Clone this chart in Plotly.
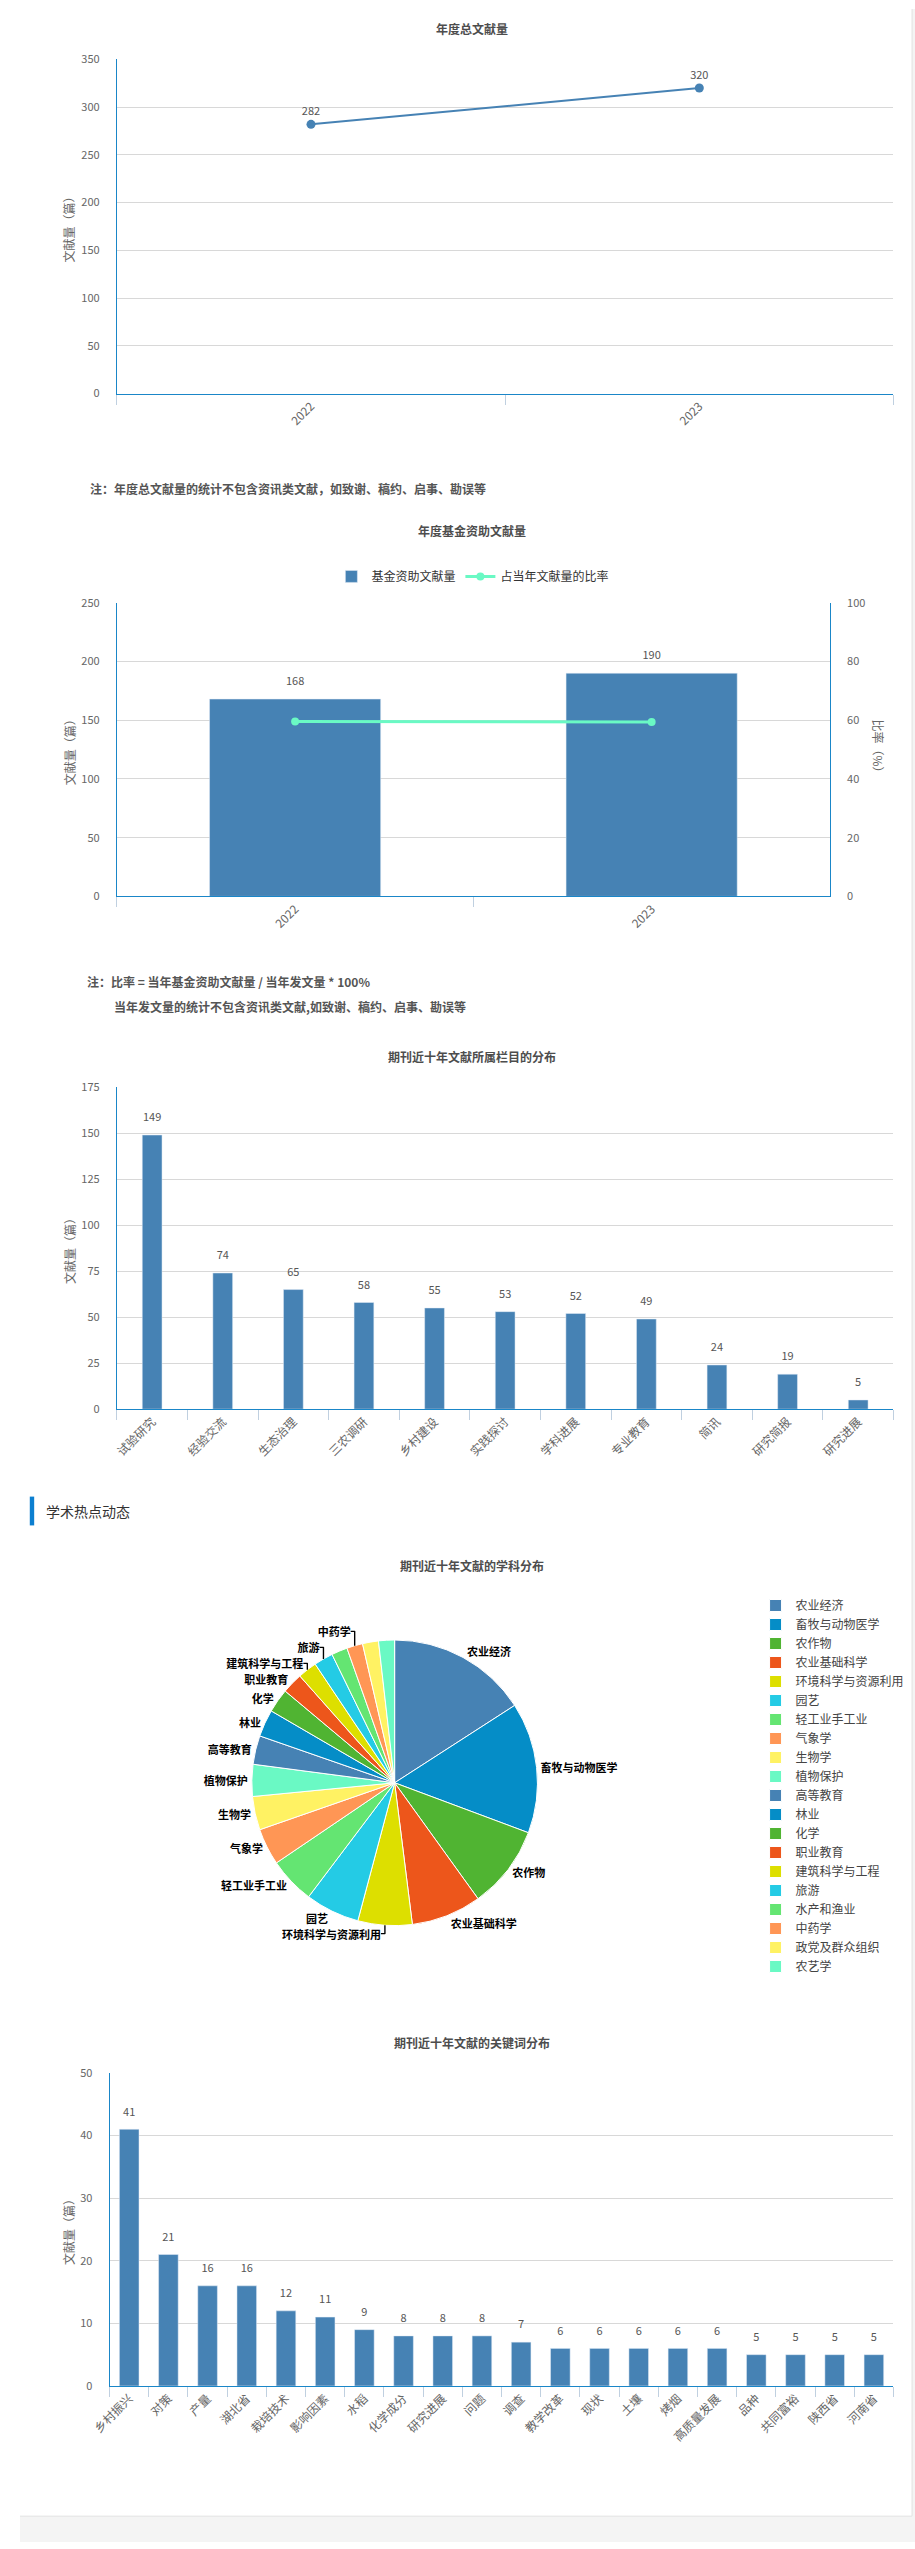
import plotly.graph_objects as go

W, H = 915, 2549
FONT = "Noto Sans CJK SC"
BLUE_AXIS = "#1A86C8"
GRID = "#D8D8D8"
TICKC = "#C0D0E0"
BAR = "#4682B4"

# ---------------- data ----------------
years = ["2022", "2023"]
total_counts = [282, 320]

fund_counts = [168, 190]
fund_ratio = [59.57, 59.38]

column_names = ["试验研究", "经验交流", "生态治理", "三农调研", "乡村建设", "实践探讨",
                "学科进展", "专业教育", "简讯", "研究简报", "研究进展"]
column_counts = [149, 74, 65, 58, 55, 53, 52, 49, 24, 19, 5]

subject_names = ["农业经济", "畜牧与动物医学", "农作物", "农业基础科学", "环境科学与资源利用",
                 "园艺", "轻工业手工业", "气象学", "生物学", "植物保护", "高等教育", "林业",
                 "化学", "职业教育", "建筑科学与工程", "旅游", "水产和渔业", "中药学",
                 "政党及群众组织", "农艺学"]
subject_counts = [88, 82, 52, 44, 34, 34, 29, 23, 21, 20, 18, 17, 15, 13, 12, 12, 10, 10, 10, 10]
subject_label_text = ["农业经济", "畜牧与动物医学", "农作物", "农业基础科学", "环境科学与资源利用",
                      "园艺", "轻工业手工业", "气象学", "生物学", "植物保护", "高等教育", "林业",
                      "化学", "职业教育", "建筑科学与工程", "旅游", "", "中药学", "", ""]
subject_colors = ["#4682B4", "#058DC7", "#50B432", "#ED561B", "#DDDF00", "#24CBE5", "#64E572",
                  "#FF9655", "#FFF263", "#6AF9C4"] * 2

keyword_names = ["乡村振兴", "对策", "产量", "湖北省", "栽培技术", "影响因素", "水稻", "化学成分",
                 "研究进展", "问题", "调查", "教学改革", "现状", "土壤", "烤烟", "高质量发展",
                 "品种", "共同富裕", "陕西省", "河南省"]
keyword_counts = [41, 21, 16, 16, 12, 11, 9, 8, 8, 8, 7, 6, 6, 6, 6, 6, 5, 5, 5, 5]


def py(y):
    return 1 - y / H


def pxx(x):
    return x / W


LABEL_FONT = dict(family=FONT, size=11, color="#555")

fig = go.Figure()


def bar_labels(xs, ys, xa, ya):
    # value labels above the bars (invisible anchor markers give Highcharts-like spacing)
    fig.add_trace(go.Scatter(
        x=xs, y=ys, mode="markers+text", text=[str(v) for v in ys],
        textposition="top center", textfont=LABEL_FONT,
        marker=dict(size=16, opacity=0), xaxis=xa, yaxis=ya,
        showlegend=False, hoverinfo="skip", cliponaxis=False))


# chart 1: line
fig.add_trace(go.Scatter(
    x=years, y=total_counts, mode="lines+markers+text", text=[str(v) for v in total_counts],
    textposition="top center", textfont=LABEL_FONT,
    line=dict(color=BAR, width=2), marker=dict(color=BAR, size=9),
    xaxis="x", yaxis="y", showlegend=False, cliponaxis=False))

# chart 2: bar + ratio line
fig.add_trace(go.Bar(
    x=years, y=fund_counts, name="基金资助文献量", marker_color=BAR, width=0.48,
    xaxis="x2", yaxis="y2", legend="legend"))
fig.add_trace(go.Scatter(
    x=years, y=fund_ratio, name="占当年文献量的比率", mode="lines+markers",
    line=dict(color="#6AF9C4", width=3), marker=dict(color="#6AF9C4", size=8),
    xaxis="x2", yaxis="y3", legend="legend"))
bar_labels(years, fund_counts, "x2", "y2")

# chart 3: columns
fig.add_trace(go.Bar(
    x=column_names, y=column_counts, marker_color=BAR, width=0.28,
    xaxis="x3", yaxis="y4", showlegend=False))
bar_labels(column_names, column_counts, "x3", "y4")

# chart 4: pie
pie_cx, pie_cy, pie_r = 383, 1785, 146
fig.add_trace(go.Pie(
    labels=subject_names, values=subject_counts, text=subject_label_text,
    textinfo="text", textposition="outside", sort=False, direction="clockwise", rotation=0,
    marker=dict(colors=subject_colors, line=dict(color="white", width=1)),
    outsidetextfont=dict(family=FONT, size=11, color="#000", weight="bold"),
    domain=dict(x=[pxx(pie_cx - pie_r), pxx(pie_cx + pie_r)],
                y=[py(pie_cy + pie_r), py(pie_cy - pie_r)]),
    legend="legend2", hoverinfo="label+value"))

# chart 5: keywords
fig.add_trace(go.Bar(
    x=keyword_names, y=keyword_counts, marker_color=BAR, width=0.5,
    xaxis="x4", yaxis="y5", showlegend=False))
bar_labels(keyword_names, keyword_counts, "x4", "y5")


def xax(x0, x1, anchor, n):
    return dict(domain=[pxx(x0), pxx(x1)], anchor=anchor, type="category",
                range=[-0.5, n - 0.5],
                showline=True, linecolor=BLUE_AXIS, linewidth=1, showgrid=False,
                ticks="outside", ticklen=10, tickcolor=TICKC, tickson="boundaries",
                tickangle=-45, tickfont=dict(family=FONT, size=12, color="#666"),
                fixedrange=True)


def yax(y0, y1, rng, dt, anchor):
    return dict(domain=[py(y1), py(y0)], anchor=anchor, range=rng, dtick=dt,
                showline=True, linecolor=BLUE_AXIS, linewidth=1, showgrid=True,
                gridcolor=GRID, zeroline=False, ticks="", ticklabelstandoff=14,
                tickfont=dict(family=FONT, size=11, color="#666"), fixedrange=True)


layout = dict(
    width=W, height=H, margin=dict(l=0, r=0, t=0, b=0),
    paper_bgcolor="white", plot_bgcolor="white",
    font=dict(family=FONT, color="#333"),
    xaxis=xax(99, 893, "y", len(years)),
    yaxis=yax(50.7, 387, [0, 350], 50, "x"),
    xaxis2=xax(99, 828, "y2", len(years)),
    yaxis2=yax(597.5, 893, [0, 250], 50, "x2"),
    yaxis3=dict(overlaying="y2", side="right", anchor="x2", range=[0, 100], dtick=20,
                showline=True, linecolor=BLUE_AXIS, showgrid=False, zeroline=False,
                ticks="", ticklabelstandoff=14,
                tickfont=dict(family=FONT, size=11, color="#666"), fixedrange=True),
    xaxis3=xax(99, 893, "y4", len(column_names)),
    yaxis4=yax(1085, 1409, [0, 175], 25, "x3"),
    xaxis4=xax(91.6, 893, "y5", len(keyword_names)),
    yaxis5=yax(2077, 2392, [0, 50], 10, "x4"),
    legend=dict(orientation="h", x=pxx(463), xanchor="center", y=py(571), yanchor="middle",
                font=dict(family=FONT, size=12, color="#333"), bgcolor="rgba(0,0,0,0)"),
    legend2=dict(orientation="v", x=pxx(752), xanchor="left", y=py(1592), yanchor="top",
                 font=dict(family=FONT, size=12, color="#444"), bgcolor="rgba(0,0,0,0)",
                 tracegroupgap=0),
    barmode="overlay",
)
fig.update_layout(**layout)

TITLE_FONT = dict(family=FONT, size=12, color="#4d4d4d")
NOTE_FONT = dict(family=FONT, size=12, color="#555")
AX_FONT = dict(family=FONT, size=12, color="#666")
ann = []


def text_at(t, x, y, font, xanchor="center", angle=0):
    ann.append(dict(text=t, x=pxx(x), y=py(y), xref="paper", yref="paper", showarrow=False,
                    xanchor=xanchor, yanchor="middle", font=font, textangle=angle))


text_at("<b>年度总文献量</b>", 462, 20, TITLE_FONT)
text_at("<b>注：年度总文献量的统计不包含资讯类文献，如致谢、稿约、启事、勘误等</b>", 70, 483, NOTE_FONT, "left")
text_at("<b>年度基金资助文献量</b>", 462, 525, TITLE_FONT)
text_at("<b>注：比率 = 当年基金资助文献量 / 当年发文量 * 100%</b>", 66, 979, NOTE_FONT, "left")
text_at("<b>当年发文量的统计不包含资讯类文献,如致谢、稿约、启事、勘误等</b>", 94.5, 1003.6, NOTE_FONT, "left")
text_at("<b>期刊近十年文献所属栏目的分布</b>", 462, 1054, TITLE_FONT)
text_at("学术热点动态", 24.5, 1511, dict(family=FONT, size=14, color="#333"), "left")
text_at("<b>期刊近十年文献的学科分布</b>", 462, 1566, TITLE_FONT)
text_at("<b>期刊近十年文献的关键词分布</b>", 462, 2046, TITLE_FONT)

text_at("文献量（篇）", 50, 219, AX_FONT, angle=-90)
text_at("文献量（篇）", 50, 745, AX_FONT, angle=-90)
text_at("比率（%）", 878, 745, AX_FONT, angle=90)
text_at("文献量（篇）", 50, 1247, AX_FONT, angle=-90)
text_at("文献量（篇）", 50, 2234, AX_FONT, angle=-90)

fig.update_layout(annotations=ann)

shapes = [
    dict(type="rect", xref="paper", yref="paper", x0=0, x1=1, y0=0, y1=py(2523),
         fillcolor="#F4F4F4", line=dict(width=0), layer="below"),
    dict(type="rect", xref="paper", yref="paper", x0=pxx(912), x1=1, y0=0, y1=1,
         fillcolor="#F4F4F4", line=dict(width=0), layer="below"),
    dict(type="line", xref="paper", yref="paper", x0=pxx(912), x1=pxx(912), y0=py(2523), y1=1,
         line=dict(color="#E2E2E2", width=1), layer="below"),
    dict(type="line", xref="paper", yref="paper", x0=0, x1=pxx(912), y0=py(2523), y1=py(2523),
         line=dict(color="#E2E2E2", width=1), layer="below"),
    dict(type="rect", xref="paper", yref="paper", x0=pxx(10), x1=pxx(14.5), y0=py(1526), y1=py(1497),
         fillcolor="#0C7FD0", line=dict(width=0), layer="below"),
]
fig.update_layout(shapes=shapes)

fig.write_html("out.html", config={"displayModeBar": False},
               post_script="document.body.style.margin='0';document.body.style.overflow='hidden';")
